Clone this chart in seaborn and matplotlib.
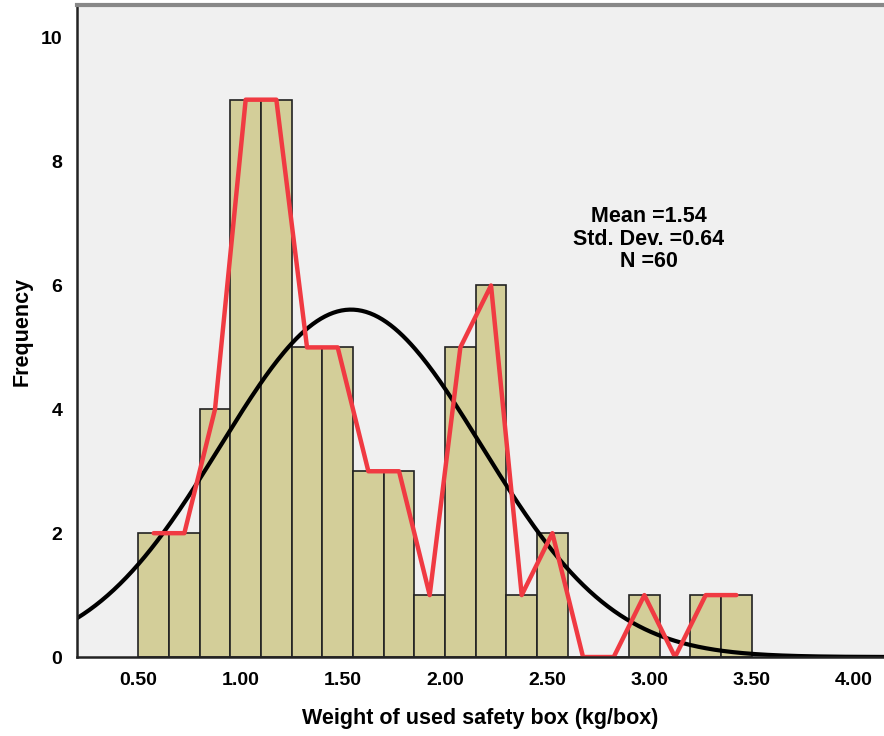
import numpy as np
import pandas as pd
import matplotlib
matplotlib.use('Agg')
import matplotlib.pyplot as plt
import seaborn as sns

# Bin edges (width 0.15, from 0.50 to 3.50)
bin_edges = [0.50, 0.65, 0.80, 0.95, 1.10, 1.25, 1.40, 1.55, 1.70, 1.85, 2.00,
             2.15, 2.30, 2.45, 2.60, 2.75, 2.90, 3.05, 3.20, 3.35, 3.50]
bin_centers = [0.575, 0.725, 0.875, 1.025, 1.175, 1.325, 1.475, 1.625, 1.775, 1.925,
               2.075, 2.225, 2.375, 2.525, 2.675, 2.825, 2.975, 3.125, 3.275, 3.425]
counts = [2, 2, 4, 9, 9, 5, 5, 3, 3, 1, 5, 6, 1, 2, 0, 0, 1, 0, 1, 1]

mean_val = 1.54
sd_val = 0.64
n_val = 60
x_ticks = [0.50, 1.00, 1.50, 2.00, 2.50, 3.00, 3.50, 4.00]
x_tick_labels = ['0.50', '1.00', '1.50', '2.00', '2.50', '3.00', '3.50', '4.00']
y_ticks = [0, 2, 4, 6, 8, 10]

df = pd.DataFrame({'center': bin_centers, 'count': counts})

sns.set_style('white')
plt.rcParams['font.family'] = ['Liberation Sans', 'DejaVu Sans']
plt.rcParams['font.weight'] = 'bold'
plt.rcParams['text.color'] = 'black'
plt.rcParams['xtick.color'] = 'black'
plt.rcParams['ytick.color'] = 'black'
plt.rcParams['axes.labelcolor'] = 'black'

fig = plt.figure(figsize=(8.84, 7.36), dpi=100)
ax = fig.add_axes([0.0871, 0.1073, 0.9129, 0.886])
ax.set_facecolor('#F0F0F0')

# histogram
sns.histplot(data=df, x='center', weights='count', bins=bin_edges,
             color='#D3CE99', edgecolor='#222222', linewidth=1.2, alpha=1, ax=ax)

# normal curve scaled to counts
xs = np.linspace(0.2, 4.2, 400)
bw = bin_edges[1] - bin_edges[0]
ys = n_val * bw / (sd_val * np.sqrt(2 * np.pi)) * np.exp(-0.5 * ((xs - mean_val) / sd_val) ** 2)
sns.lineplot(x=xs, y=ys, color='black', linewidth=3, ax=ax)

# frequency polygon
sns.lineplot(data=df, x='center', y='count', color='#F03A42', linewidth=3.2, ax=ax)

ax.text(2.995, 6.75, 'Mean =1.54\nStd. Dev. =0.64\nN =60', ha='center', va='center',
        fontsize=15.5, fontweight='bold', linespacing=1.1, color='black')

ax.set_xlim(0.20, 4.147)
ax.set_ylim(0, 10.53)
ax.set_xticks(x_ticks)
ax.set_xticklabels(x_tick_labels)
ax.set_yticks(y_ticks)
ax.tick_params(axis='both', labelsize=14, length=7, width=1.8, color='#333333',
               labelcolor='black', direction='out')
for lab in ax.get_xticklabels() + ax.get_yticklabels():
    lab.set_fontweight('bold')

ax.set_xlabel('Weight of used safety box (kg/box)', fontsize=15.5, fontweight='bold', labelpad=14)
ax.set_ylabel('Frequency', fontsize=15.5, fontweight='bold', labelpad=6)

for side in ['left', 'bottom']:
    ax.spines[side].set_color('#222222')
    ax.spines[side].set_linewidth(1.8)
ax.spines['top'].set_color('#888888')
ax.spines['top'].set_linewidth(3)
ax.spines['right'].set_visible(False)

fig.savefig('out.png', dpi=100)
